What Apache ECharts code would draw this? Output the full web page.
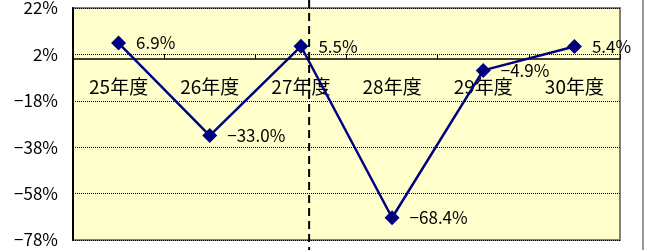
<!DOCTYPE html>
<html>
<head>
<meta charset="utf-8">
<script src="https://cdn.jsdelivr.net/npm/echarts@6/dist/echarts.min.js"></script>
<style>
html,body{margin:0;padding:0;background:#fff;}
#c{width:649px;height:250px;}
</style>
</head>
<body>
<div id="c"></div>
<script>
var categories = ['25年度', '26年度', '27年度', '28年度', '29年度', '30年度'];
var values = [6.9, -33.0, 5.5, -68.4, -4.9, 5.4];
var yTicks = [-78, -58, -38, -18, 2, 22];
var dividerAt = 2.09;

var FONT = '"Noto Sans CJK JP", "Noto Sans", sans-serif';
var chart = echarts.init(document.getElementById('c'), null, {renderer: 'canvas'});
var option = {
  animation: false,
  grid: {
    left: 73, top: 8, right: 29, bottom: 10,
    outerBoundsMode: 'none', containLabel: false,
    show: true, backgroundColor: '#FFFFCC', borderColor: '#808080', borderWidth: 2
  },
  xAxis: {
    type: 'category',
    data: categories,
    boundaryGap: true,
    axisLine: {onZero: true, lineStyle: {color: '#000', width: 1.5}},
    axisTick: {show: true, inside: true, length: 5, lineStyle: {color: '#000'}},
    axisLabel: {margin: 20, fontSize: 19, color: '#000', fontFamily: FONT},
    splitLine: {show: false}
  },
  yAxis: {
    type: 'value',
    min: yTicks[0], max: yTicks[yTicks.length - 1], interval: 20,
    axisLine: {show: true, onZero: false, lineStyle: {color: '#000', width: 2}},
    axisTick: {show: false},
    axisLabel: {margin: 15, fontSize: 17, color: '#000', fontFamily: FONT,
      formatter: function (v) { return (v < 0 ? '\u2212' + Math.abs(v) : v) + '%'; }},
    splitLine: {show: true, lineStyle: {color: '#000', type: 'dotted', width: 1}}
  },
  series: [{
    type: 'line',
    data: values,
    symbol: 'diamond',
    symbolSize: 15,
    lineStyle: {color: '#000080', width: 2.5},
    itemStyle: {color: '#000080'},
    label: {
      show: true, position: 'right', distance: 10, fontSize: 17, color: '#000', fontFamily: FONT,
      formatter: function (p) { var v = p.value; return (v < 0 ? '\u2212' + Math.abs(v).toFixed(1) : v.toFixed(1)) + '%'; }
    }
  }]
};
chart.setOption(option);

var y0 = chart.convertToPixel({yAxisIndex: 0}, 0);
var yBottom = chart.convertToPixel({yAxisIndex: 0}, yTicks[0]);
var x2 = chart.convertToPixel({xAxisIndex: 0}, 2);
var x3 = chart.convertToPixel({xAxisIndex: 0}, 3);
var dx = x2 + (dividerAt - 2) * (x3 - x2);
chart.setOption({
  xAxis: {axisLabel: {margin: (y0 + 18) - yBottom}},
  graphic: [
    {type: 'line', shape: {x1: dx, y1: 0, x2: dx, y2: 250}, style: {stroke: '#000', lineWidth: 2, lineDash: [8, 5]}, z: 100},
    {type: 'line', shape: {x1: 643, y1: 0, x2: 643, y2: 250}, style: {stroke: '#999', lineWidth: 2}}
  ]
});
</script>
</body>
</html>
